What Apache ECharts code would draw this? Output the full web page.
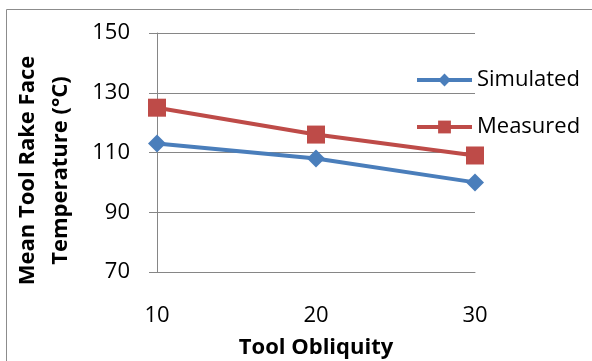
<!DOCTYPE html>
<html>
<head>
<meta charset="utf-8">
<script src="https://cdn.jsdelivr.net/npm/echarts@6/dist/echarts.min.js"></script>
<style>html,body{margin:0;padding:0;background:#fff}#c{width:592px;height:361px}</style>
</head>
<body>
<div id="c"></div>
<script>
const categories = ['10', '20', '30'];
const simulated = [113, 108, 100];
const measured = [125, 116, 109];
const yTicks = { min: 70, max: 150, interval: 20 };
const xTitle = 'Tool Obliquity';
const yTitle = 'Mean Tool Rake Face\nTemperature (\u00B0C)';

const FONT = '"Open Sans", "Liberation Sans", sans-serif';
const FS = 22;
const chart = echarts.init(document.getElementById('c'), null, { renderer: 'canvas' });
chart.setOption({
  animation: false,
  backgroundColor: '#fff',
  graphic: [{
    type: 'rect', shape: { x: 6.5, y: 9.5, width: 700, height: 500 },
    style: { fill: 'none', stroke: '#8c8c8c', lineWidth: 1 }, silent: true, z: -1
  }],
  grid: { left: 157, top: 33, right: 117, bottom: 89, containLabel: false, outerBoundsMode: 'none' },
  legend: {
    orient: 'vertical', left: 415, top: 69, padding: 0, itemWidth: 55, itemHeight: 16, itemGap: 25,
    lineStyle: { width: 4 },
    textStyle: { fontFamily: FONT, fontSize: FS, color: '#000', lineHeight: 22 },
    data: ['Simulated', 'Measured']
  },
  xAxis: {
    type: 'category', data: categories, boundaryGap: false,
    name: xTitle, nameLocation: 'middle', nameGap: 65,
    nameTextStyle: { fontFamily: FONT, fontSize: FS, fontWeight: 'bold', color: '#000' },
    axisLine: { lineStyle: { color: '#868686', width: 1 } },
    axisTick: { show: false },
    axisLabel: { fontFamily: FONT, fontSize: FS, color: '#000', margin: 33 },
    splitLine: { show: false }
  },
  yAxis: {
    type: 'value', min: yTicks.min, max: yTicks.max, interval: yTicks.interval,
    name: yTitle, nameLocation: 'middle', nameGap: 80, nameRotate: 90,
    nameTextStyle: { fontFamily: FONT, fontSize: FS, fontWeight: 'bold', color: '#000', lineHeight: 33, padding: [0, 36, 0, 0] },
    axisLine: { show: true, lineStyle: { color: '#868686', width: 1 } },
    axisTick: { show: true, inside: false, length: 8, lineStyle: { color: '#868686' } },
    axisLabel: { fontFamily: FONT, fontSize: FS, color: '#000', margin: 27 },
    splitLine: { show: true, lineStyle: { color: '#868686', width: 1 } }
  },
  series: [{
    name: 'Simulated', type: 'line', data: simulated,
    symbol: 'diamond', symbolSize: 18,
    lineStyle: { color: '#4A7EBB', width: 4 },
    itemStyle: { color: '#4A7EBB' }
  }, {
    name: 'Measured', type: 'line', data: measured,
    symbol: 'rect', symbolSize: 18,
    lineStyle: { color: '#BE4B48', width: 4 },
    itemStyle: { color: '#BE4B48' }
  }]
});
</script>
</body>
</html>
